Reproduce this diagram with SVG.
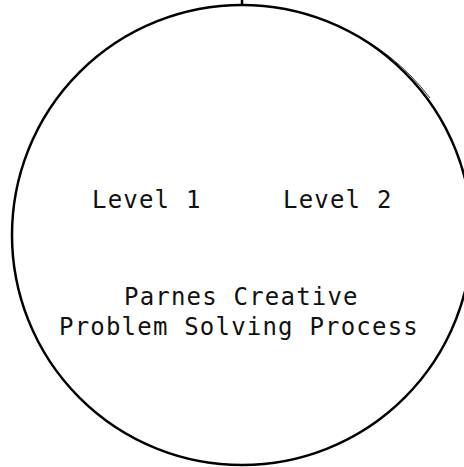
<svg xmlns="http://www.w3.org/2000/svg" width="464" height="467" viewBox="0 0 464 467">
<style>
.t{font-family:"DejaVu Sans Mono","Liberation Mono",monospace;font-size:24px;letter-spacing:1.2px;fill:#111}
.c{fill:none;stroke:#000;stroke-width:2.5}
.f{fill:none;stroke:#000;stroke-width:0.8}
</style>
<rect width="464" height="467" fill="#fff"/>
<g id="circle">
<circle class="c" cx="242" cy="235" r="230"/>
<path class="f" d="M340,27 A232,232 0 0 1 430,98"/>
<line class="c" x1="242" y1="0" x2="242" y2="6"/>
</g>
<g id="level1"><text class="t" x="92" y="208">Level 1</text></g>
<g id="level2"><text class="t" x="283" y="208">Level 2</text></g>
<g id="title">
<text class="t" x="124" y="305">Parnes Creative</text>
<text class="t" x="59" y="335">Problem Solving Process</text>
</g>
<g id="connectors"/>
</svg>
